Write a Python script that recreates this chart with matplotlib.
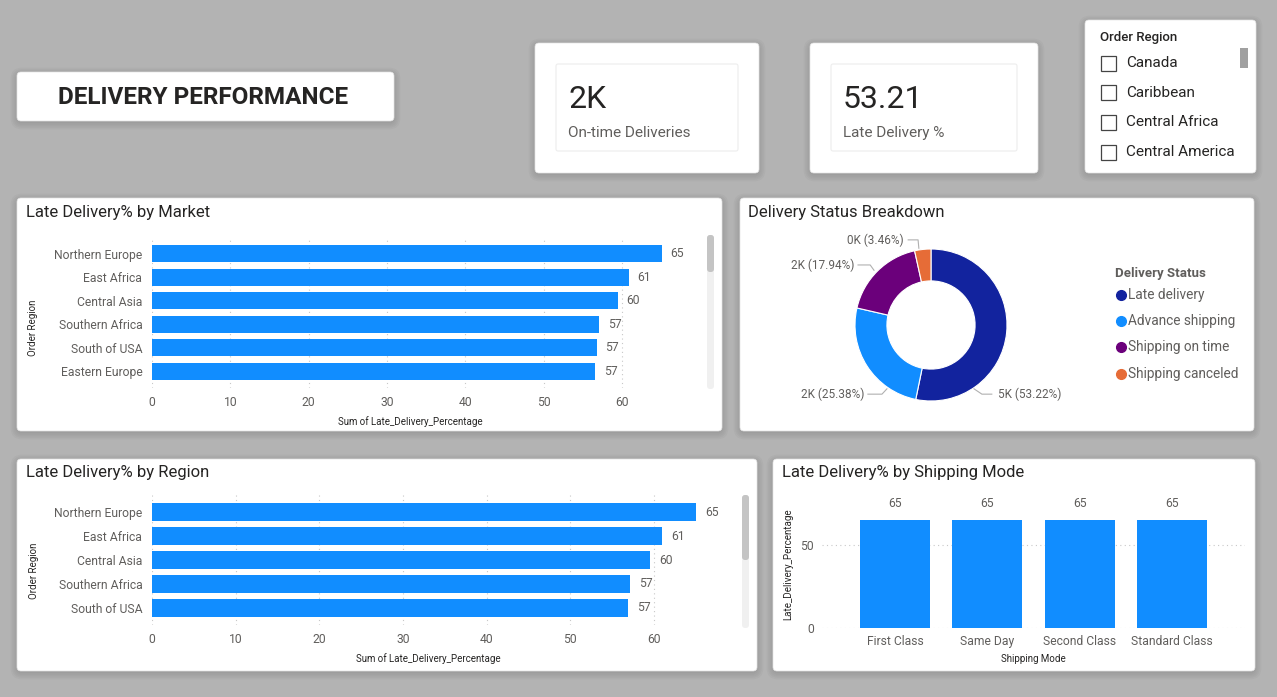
import matplotlib.pyplot as plt
from matplotlib.patches import FancyBboxPatch, Rectangle

W, H = 1277, 697

# data
market_names = ['Northern Europe', 'East Africa', 'Central Asia', 'Southern Africa',
                'South of USA', 'Eastern Europe']
market_late = [65.1, 60.9, 59.5, 57.1, 56.8, 56.6]

region_names = ['Northern Europe', 'East Africa', 'Central Asia', 'Southern Africa', 'South of USA']
region_late = [65.1, 61.0, 59.5, 57.1, 56.9]

status_names = ['Late delivery', 'Advance shipping', 'Shipping on time', 'Shipping canceled']
status_counts = [5003, 2386, 1686, 325]
status_pct = [53.22, 25.38, 17.94, 3.46]
status_colors = ['#12239E', '#118DFF', '#6B007B', '#E66C37']

ship_modes = ['First Class', 'Same Day', 'Second Class', 'Standard Class']
ship_late = [65.1, 65.1, 65.1, 65.1]

kpi_ontime = '2K'
kpi_late_pct = 53.21
slicer_items = ['Canada', 'Caribbean', 'Central Africa', 'Central America']

BLUE = '#118DFF'
DARK = '#252423'
GREY = '#605E5C'

plt.rcParams['font.family'] = ['Roboto', 'DejaVu Sans']

fig = plt.figure(figsize=(W / 100, H / 100), dpi=100)
fig.patch.set_facecolor('#B3B3B3')

# background axes in pixel coordinates
bg = fig.add_axes([0, 0, 1, 1], zorder=0)
bg.set_xlim(0, W)
bg.set_ylim(H, 0)
bg.axis('off')


def card(x0, y0, x1, y1, shadow=True):
    if shadow:
        for i in range(5):
            p = 1 + i * 1.6
            bg.add_patch(FancyBboxPatch((x0 - p + 1, y0 - p + 3), x1 - x0 + 2 * p - 2, y1 - y0 + 2 * p - 2,
                                        boxstyle=f'round,pad=0,rounding_size={4 + p}', fc='black',
                                        ec='none', alpha=0.022))
    bg.add_patch(FancyBboxPatch((x0, y0), x1 - x0, y1 - y0, boxstyle='round,pad=0,rounding_size=4',
                                fc='white', ec='#E4E4E4', lw=0.5))


def ax_at(x0, y0, x1, y1):
    a = fig.add_axes([x0 / W, 1 - y1 / H, (x1 - x0) / W, (y1 - y0) / H], zorder=2)
    a.patch.set_alpha(0)
    return a


# title card
card(17, 72, 394, 121)
bg.text(203, 97, 'DELIVERY PERFORMANCE', fontsize=17.5, fontweight='bold', color=DARK,
        ha='center', va='center')

# KPI cards
for (x0, x1), val, lab in [((535, 759), kpi_ontime, 'On-time Deliveries'),
                           ((810, 1038), f'{kpi_late_pct:.2f}', 'Late Delivery %')]:
    card(x0, 43, x1, 173)
    bg.add_patch(FancyBboxPatch((x0 + 21, 64), x1 - x0 - 42, 87, boxstyle='round,pad=0,rounding_size=2',
                                fc='white', ec='#EDEDED', lw=0.8))
    bg.text(x0 + 33, 99, val, fontsize=23, color=DARK, va='center', ha='left')
    bg.text(x0 + 33, 133, lab, fontsize=11, color=GREY, va='center', ha='left')

# slicer
card(1085, 20, 1256, 173)
bg.text(1100, 38, 'Order Region', fontsize=9.5, color=DARK, fontweight='medium', va='center')
bg.add_patch(Rectangle((1240, 48), 8, 20, fc='#A0A0A0', ec='none'))
for i, name in enumerate(slicer_items):
    y = 63 + i * 29.7
    bg.add_patch(Rectangle((1101, y - 7.5), 15, 15, fc='white', ec='#444444', lw=0.9))
    bg.text(1126, y, name, fontsize=11, color=DARK, va='center')

# panels
card(17, 198, 722, 431)
card(740, 198, 1254, 431)
card(17, 459, 757, 671)
card(773, 459, 1255, 671)

bg.text(26, 212, 'Late Delivery% by Market', fontsize=12, color=DARK, va='center')
bg.text(748, 212, 'Delivery Status Breakdown', fontsize=12, color=DARK, va='center')
bg.text(26, 472, 'Late Delivery% by Region', fontsize=12, color=DARK, va='center')
bg.text(782, 472, 'Late Delivery% by Shipping Mode', fontsize=12, color=DARK, va='center')

# scrollbars
bg.add_patch(FancyBboxPatch((707, 235), 7, 154, boxstyle='round,pad=0,rounding_size=3', fc='#F0F0F0', ec='none'))
bg.add_patch(FancyBboxPatch((707, 235), 7, 37, boxstyle='round,pad=0,rounding_size=3', fc='#C4C4C4', ec='none'))
bg.add_patch(FancyBboxPatch((742, 495), 7, 133, boxstyle='round,pad=0,rounding_size=3', fc='#F0F0F0', ec='none'))
bg.add_patch(FancyBboxPatch((742, 495), 7, 65, boxstyle='round,pad=0,rounding_size=3', fc='#C4C4C4', ec='none'))


def hbar(ax, names, vals, ylim):
    ys = range(len(names))
    ax.barh(ys, vals, height=0.72, color=BLUE, zorder=3)
    for y, v in zip(ys, vals):
        ax.text(v + 1.1, y, f'{round(v)}', va='center', ha='left', fontsize=8.7, color=GREY)
    ax.set_yticks(list(ys))
    ax.set_yticklabels(names, fontsize=8.7, color=GREY)
    ax.set_xlim(0, 66)
    ax.set_ylim(*ylim)
    ax.set_xticks(range(0, 61, 10))
    ax.tick_params(axis='x', labelsize=8.7, labelcolor=GREY, length=0, pad=6)
    ax.tick_params(axis='y', length=0, pad=7)
    ax.grid(axis='x', color='#C8C8C8', linestyle=(0, (1, 3)), lw=0.8, zorder=0)
    for s in ax.spines.values():
        s.set_visible(False)
    ax.set_xlabel('Sum of Late_Delivery_Percentage', fontsize=7, color=DARK, labelpad=5)


ax1 = ax_at(152, 237, 669, 388)
hbar(ax1, market_names, market_late, (5.7, -0.7))
ax1.set_ylabel('Order Region', fontsize=7, color=DARK)
ax1.yaxis.set_label_coords(-0.22, 0.4)

ax3 = ax_at(152, 495, 704, 625)
hbar(ax3, region_names, region_late, (4.71, -0.71))
ax3.set_ylabel('Order Region', fontsize=7, color=DARK)
ax3.yaxis.set_label_coords(-0.205, 0.42)

# donut
ax2 = ax_at(855, 249, 1007, 401)
ax2.pie(status_pct, colors=status_colors, startangle=90, counterclock=False, radius=1,
        wedgeprops=dict(width=0.42, edgecolor='white', linewidth=0.8))
ax2.set_xlim(-1, 1)
ax2.set_ylim(-1, 1)
ax2.set_aspect('equal')
ax2.axis('off')
leaders = [  # start, elbow, end, text x, alignment
    ((0.566, -0.84), (0.67, -0.91), (0.80, -0.91), 0.88, 'left'),
    ((-0.58, -0.84), (-0.645, -0.91), (-0.83, -0.91), -0.88, 'right'),
    ((-0.75, 0.72), (-0.80, 0.79), (-0.96, 0.79), -1.01, 'right'),
    ((-0.16, 1.01), (-0.17, 1.12), (-0.30, 1.12), -0.36, 'right'),
]
for (s, e, t, tx, ha), c, p in zip(leaders, status_counts, status_pct):
    ax2.plot([s[0], e[0], t[0]], [s[1], e[1], t[1]], color='#B0B0B0', lw=0.8, clip_on=False)
    ax2.text(tx, t[1], f'{c / 1000:.0f}K ({p:.2f}%)', ha=ha, va='center', fontsize=8.5,
             color=GREY, clip_on=False)

bg.text(1115, 274, 'Delivery Status', fontsize=9.5, fontweight='bold', color=GREY, va='center')
for i, (name, col) in enumerate(zip(status_names, status_colors)):
    y = 295 + i * 26.2
    bg.plot(1121, y, 'o', ms=7, color=col)
    bg.text(1128, y, name, fontsize=9.8, color=GREY, va='center')

# shipping mode
ax4 = ax_at(822, 500, 1245, 628)
xs = range(len(ship_modes))
ax4.bar(xs, ship_late, width=0.76, color=BLUE, zorder=3)
for x, v in zip(xs, ship_late):
    ax4.text(x, v + 6, f'{round(v)}', ha='center', va='bottom', fontsize=8.7, color=GREY)
ax4.set_xlim(-0.79, 3.79)
ax4.set_ylim(0, 77)
ax4.set_yticks([0, 50])
ax4.set_xticks(list(xs))
ax4.set_xticklabels(ship_modes, fontsize=8.7, color=GREY)
ax4.tick_params(axis='y', labelsize=8.7, labelcolor=GREY, length=0, pad=6)
ax4.tick_params(axis='x', length=0, pad=5)
ax4.grid(axis='y', color='#C8C8C8', linestyle=(0, (1, 3)), lw=0.8, zorder=0)
for s in ax4.spines.values():
    s.set_visible(False)
ax4.set_xlabel('Shipping Mode', fontsize=7, color=DARK, labelpad=4)
ax4.set_ylabel('Late_Delivery_Percentage', fontsize=7, color=DARK)
ax4.yaxis.set_label_coords(-0.068, 0.5)

fig.savefig('out.png', dpi=100, facecolor=fig.get_facecolor())
